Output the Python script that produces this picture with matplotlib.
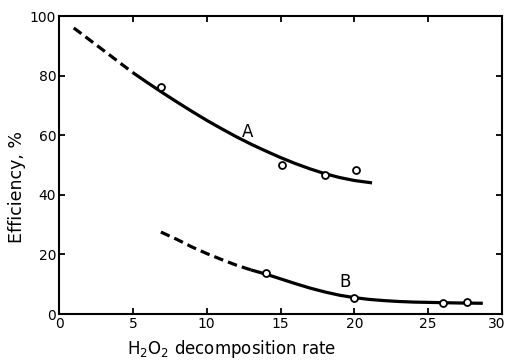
import numpy as np
import matplotlib
matplotlib.use("Agg")
import matplotlib.pyplot as plt
from matplotlib.transforms import ScaledTranslation

plt.rcParams["font.family"] = ["DejaVu Sans"]
plt.rcParams["mathtext.default"] = "regular"

# curve A
a_dash_x = [1.0, 3.0, 5.0]
a_dash_y = [96.0, 88.5, 81.0]
a_fit_x = [5, 6, 7, 8, 9, 10, 11, 12, 13, 14, 15, 16, 17, 18, 19, 20, 21.2]
a_fit_y = [81.0, 77.6, 74.3, 71.1, 68.0, 65.0, 62.2, 59.5, 57.0, 54.7,
           52.5, 50.5, 48.7, 47.1, 45.8, 44.8, 44.0]
a_pts_x = [6.9, 15.1, 18.0, 20.1]
a_pts_y = [76.2, 50.0, 46.8, 48.4]

# curve B
b_dash_x = [6.9, 8, 9, 10, 11, 12, 13]
b_dash_y = [27.5, 25.0, 22.5, 20.3, 18.3, 16.4, 14.8]
b_fit_x = [13, 14, 15, 16, 17, 18, 19, 20, 21, 22, 23, 24, 25, 26, 27, 28.7]
b_fit_y = [14.8, 13.4, 11.8, 10.2, 8.7, 7.4, 6.3, 5.5, 4.9, 4.5,
           4.2, 4.0, 3.9, 3.8, 3.7, 3.6]
b_pts_x = [14.0, 20.0, 26.0, 27.6]
b_pts_y = [13.8, 5.4, 3.8, 4.0]

x_ticks = [0, 5, 10, 15, 20, 25, 30]
y_ticks = [0, 20, 40, 60, 80, 100]

fig = plt.figure(figsize=(5.09, 3.62), dpi=100)
ax = fig.add_axes([59 / 509, 1 - 314 / 362, 443 / 509, 298 / 362])

lw = 2.3
for xs, ys in [(a_dash_x, a_dash_y), (b_dash_x, b_dash_y)]:
    ax.plot(xs, ys, color="black", lw=lw, dashes=(3, 1.6), solid_capstyle="butt")
for xs, ys in [(a_fit_x, a_fit_y), (b_fit_x, b_fit_y)]:
    ax.plot(xs, ys, color="black", lw=lw, solid_capstyle="butt")
for xs, ys in [(a_pts_x, a_pts_y), (b_pts_x, b_pts_y)]:
    ax.plot(xs, ys, "o", ms=5, mfc="white", mec="black", mew=1.3, zorder=3)

ax.text(12.8, 61, "A", fontsize=12, ha="center", va="center")
ax.text(19.4, 10.6, "B", fontsize=12, ha="center", va="center")

ax.set_xlim(0, 30)
ax.set_ylim(0, 100)
ax.set_xticks(x_ticks)
ax.set_yticks(y_ticks)
ax.tick_params(direction="in", length=4, width=1.3, top=True, right=True,
               labelsize=10, pad=2)
for sp in ax.spines.values():
    sp.set_linewidth(1.5)

# last x label sits at the figure edge; nudge it in a little
last = ax.get_xticklabels()[-1]
last.set_transform(last.get_transform() + ScaledTranslation(-4 / 72, 0, fig.dpi_scale_trans))

ax.set_xlabel("H$_2$O$_2$ decomposition rate", fontsize=12)
ax.xaxis.set_label_coords(0.39, -0.08)
ax.set_ylabel("Efficiency, %", fontsize=12.5)
ax.yaxis.set_label_coords(-0.075, 0.426)

fig.savefig("out.png", dpi=100)
